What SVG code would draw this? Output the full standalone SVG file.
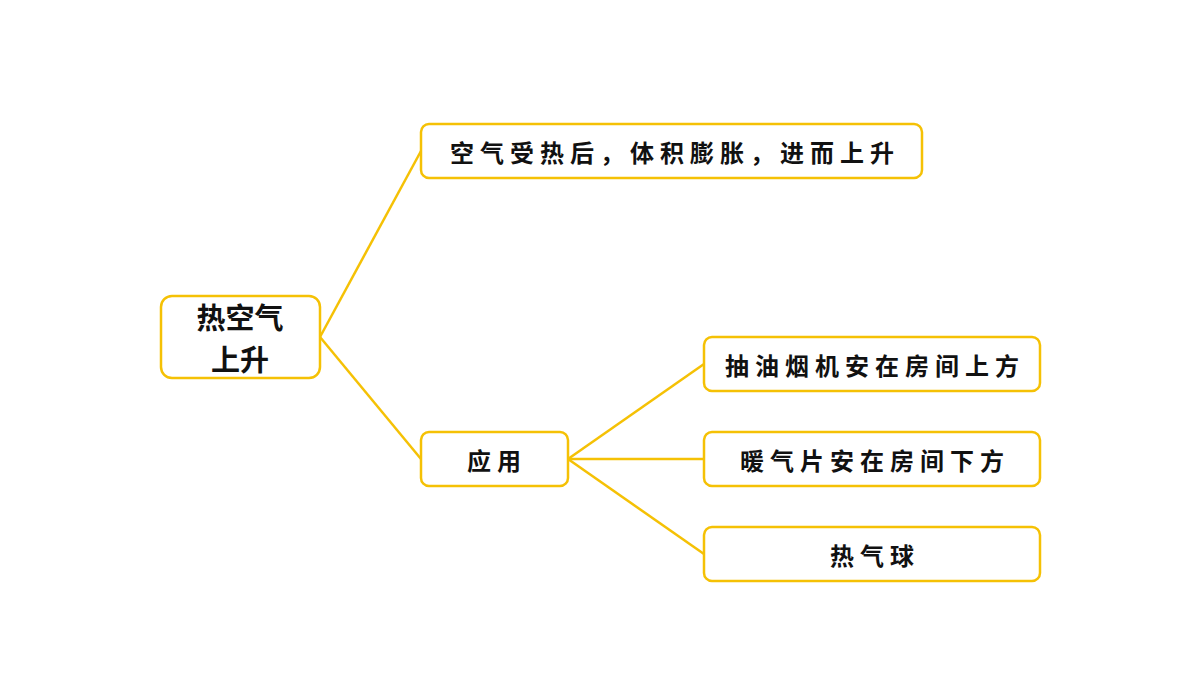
<svg xmlns="http://www.w3.org/2000/svg" width="1200" height="675" viewBox="0 0 1200 675">
<style>
.box{fill:#fff;stroke:#F5C105;stroke-width:2.5}
.t{font-family:"Noto Sans CJK SC",sans-serif;font-weight:bold;fill:#111;text-anchor:middle;dominant-baseline:central;font-size:24px;letter-spacing:6px}
.r{font-size:29px;letter-spacing:0}
.c{fill:none;stroke:#F5C105;stroke-width:2.5}
</style>
<rect width="1200" height="675" fill="#fff"/>
<g id="connectors">
<path class="c" d="M320,337 L421,151"/>
<path class="c" d="M320,337 L421,459"/>
<path class="c" d="M568,459 L704,364"/>
<path class="c" d="M568,459 L704,459"/>
<path class="c" d="M568,459 L704,554"/>
</g>
<g id="root"><rect class="box" x="161" y="296" width="159" height="82" rx="11"/>
<text class="t r" x="240" y="316">热空气</text><text class="t r" x="240" y="358">上升</text></g>
<g id="n1"><rect class="box" x="421" y="124" width="501" height="54" rx="8"/><text class="t" x="675" y="151">空气受热后，体积膨胀，进而上升</text></g>
<g id="n2"><rect class="box" x="421" y="432" width="147" height="54" rx="8"/><text class="t" x="497" y="459">应用</text></g>
<g id="n3"><rect class="box" x="704" y="337" width="336" height="54" rx="8"/><text class="t" x="875" y="364">抽油烟机安在房间上方</text></g>
<g id="n4"><rect class="box" x="704" y="432" width="336" height="54" rx="8"/><text class="t" x="875" y="459">暖气片安在房间下方</text></g>
<g id="n5"><rect class="box" x="704" y="527" width="336" height="54" rx="8"/><text class="t" x="875" y="554">热气球</text></g>
</svg>
